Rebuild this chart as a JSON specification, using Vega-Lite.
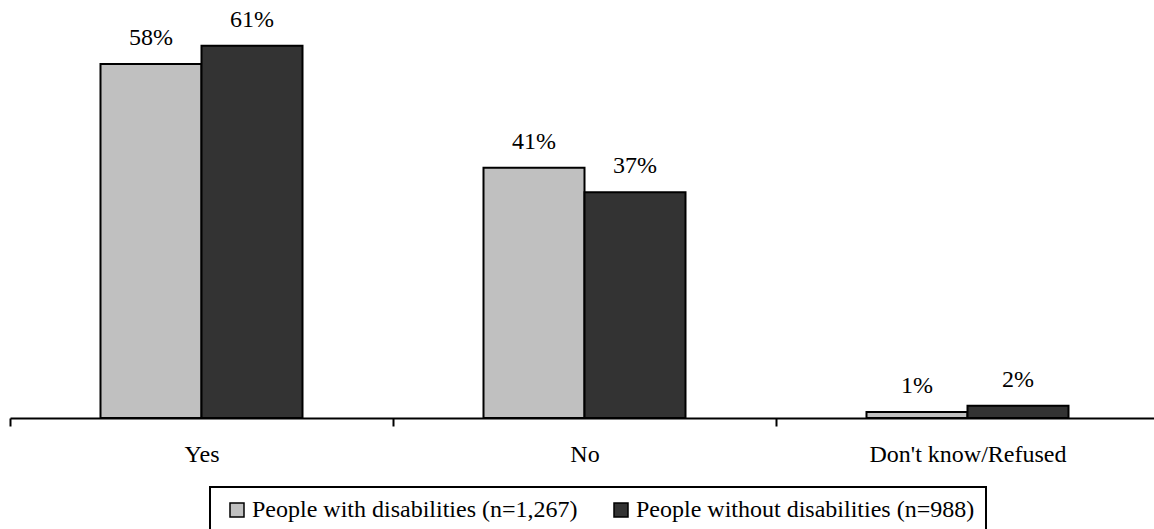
{
  "$schema": "https://vega.github.io/schema/vega-lite/v6.json",
  "autosize": {"type": "none"},
  "width": 1149,
  "height": 418,
  "padding": {"left": 10, "top": 0, "right": -5, "bottom": 111},
  "background": "white",
  "data": {
    "values": [
      {"answer": "Yes", "group": "People with disabilities (n=1,267)", "share": 0.58},
      {"answer": "Yes", "group": "People without disabilities (n=988)", "share": 0.61},
      {"answer": "No", "group": "People with disabilities (n=1,267)", "share": 0.41},
      {"answer": "No", "group": "People without disabilities (n=988)", "share": 0.37},
      {"answer": "Don't know/Refused", "group": "People with disabilities (n=1,267)", "share": 0.01},
      {"answer": "Don't know/Refused", "group": "People without disabilities (n=988)", "share": 0.02}
    ]
  },
  "encoding": {
    "x": {
      "field": "answer",
      "type": "nominal",
      "sort": ["Yes", "No", "Don't know/Refused"],
      "scale": {"paddingInner": 0, "paddingOuter": 0},
      "axis": {
        "title": null,
        "labelAngle": 0,
        "labelFont": "Liberation Serif",
        "labelFontSize": 24,
        "labelColor": "black",
        "labelLimit": 0,
        "labelBaseline": "alphabetic",
        "labelPadding": 35,
        "domainColor": "black",
        "domainWidth": 2,
        "tickColor": "black",
        "tickWidth": 2,
        "tickSize": 8,
        "tickBand": "extent"
      }
    },
    "xOffset": {
      "field": "group",
      "type": "nominal",
      "sort": ["People with disabilities (n=1,267)", "People without disabilities (n=988)"],
      "scale": {"paddingInner": 0, "paddingOuter": 0.896}
    },
    "y": {
      "field": "share",
      "type": "quantitative",
      "scale": {"domain": [0, 0.685], "nice": false},
      "axis": null
    }
  },
  "layer": [
    {
      "mark": {"type": "bar", "stroke": "black", "strokeWidth": 2},
      "encoding": {
        "fill": {
          "field": "group",
          "type": "nominal",
          "sort": ["People with disabilities (n=1,267)", "People without disabilities (n=988)"],
          "scale": {"range": ["#C0C0C0", "#333333"]},
          "legend": {
            "title": null,
            "orient": "none",
            "legendX": 200,
            "legendY": 487,
            "direction": "horizontal",
            "columns": 2,
            "columnPadding": 27,
            "padding": 11,
            "strokeColor": "black",
            "fillColor": "white",
            "symbolType": "square",
            "symbolSize": 196,
            "symbolStrokeColor": "black",
            "symbolStrokeWidth": 1.5,
            "symbolOpacity": 1,
            "symbolOffset": 4,
            "labelOffset": 3,
            "labelFont": "Liberation Serif",
            "labelFontSize": 24,
            "labelColor": "black",
            "labelLimit": 0
          }
        }
      }
    },
    {
      "mark": {
        "type": "text",
        "baseline": "alphabetic",
        "dy": -19,
        "font": "Liberation Serif",
        "fontSize": 24,
        "color": "black"
      },
      "encoding": {
        "text": {"field": "share", "type": "quantitative", "format": ".0%"}
      }
    }
  ],
  "config": {"view": {"stroke": null}, "legend": {"strokeWidth": 2}}
}
